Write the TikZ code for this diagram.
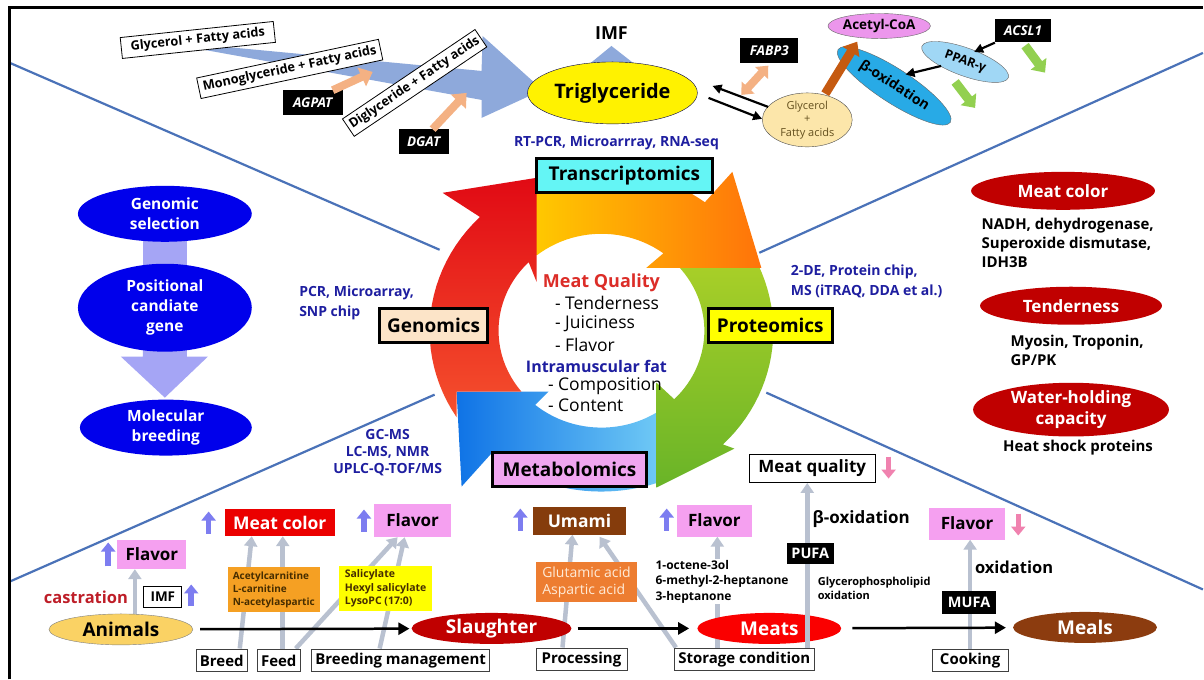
\documentclass[tikz,border=0pt]{standalone}
\usepackage{fontspec}
\setmainfont{Open Sans}
\usetikzlibrary{arrows.meta,shapes.geometric,calc}
\newcommand\fz[2]{\fontsize{#1}{#2}\selectfont}
\pgfdeclarelayer{back}
\pgfdeclarelayer{bg}
\pgfsetlayers{back,bg,main}
\definecolor{lineblue}{RGB}{74,114,184}
\definecolor{tblue}{RGB}{142,169,219}
\definecolor{peach}{RGB}{244,177,131}
\definecolor{glyc}{RGB}{252,230,170}
\definecolor{glyctext}{RGB}{100,80,30}
\definecolor{acoa}{RGB}{236,150,236}
\definecolor{boxbl}{RGB}{40,170,230}
\definecolor{pparbl}{RGB}{160,215,245}
\definecolor{brownar}{RGB}{197,90,17}
\definecolor{greenar}{RGB}{146,208,80}
\definecolor{lav}{RGB}{165,165,245}
\definecolor{selblue}{RGB}{0,0,235}
\definecolor{dred}{RGB}{192,0,0}
\definecolor{methblue}{RGB}{30,30,160}
\definecolor{mqred}{RGB}{220,45,40}
\definecolor{tcyan}{RGB}{100,245,245}
\definecolor{gbisque}{RGB}{252,228,200}
\definecolor{pyellow}{RGB}{255,255,0}
\definecolor{mpink}{RGB}{240,165,240}
\definecolor{redT}{RGB}{225,10,20}
\definecolor{redB}{RGB}{245,80,45}
\definecolor{orangeL}{RGB}{255,200,0}
\definecolor{orangeR}{RGB}{255,115,10}
\definecolor{greenT}{RGB}{180,212,40}
\definecolor{greenB}{RGB}{105,180,40}
\definecolor{blueL}{RGB}{15,115,230}
\definecolor{blueR}{RGB}{110,200,245}
\definecolor{flpink}{RGB}{245,160,240}
\definecolor{mcred}{RGB}{235,0,0}
\definecolor{umbrown}{RGB}{133,60,12}
\definecolor{grayar}{RGB}{185,193,208}
\definecolor{uparrow}{RGB}{125,125,240}
\definecolor{dnarrow}{RGB}{240,130,175}
\definecolor{animal}{RGB}{250,210,100}
\definecolor{meatred}{RGB}{250,0,0}
\definecolor{mealbrown}{RGB}{140,60,15}
\definecolor{orgbox}{RGB}{245,160,35}
\definecolor{orgtext}{RGB}{70,45,0}
\definecolor{glubox}{RGB}{237,125,49}
\definecolor{glutext}{RGB}{255,235,215}
\definecolor{castred}{RGB}{190,30,40}
\definecolor{ybox}{RGB}{255,255,0}
\begin{document}
\begin{tikzpicture}[x=1pt,y=-1pt,
 bx/.style={draw=black,line width=0.8pt,fill=white,inner sep=2pt},
 tbox/.style={draw=black,line width=3pt,minimum height=34pt,inner sep=5pt,font=\fz{19}{21}\bfseries},
 blk/.style={fill=black,text=white,font=\fz{13.5}{15}\bfseries\itshape,minimum height=25pt,inner sep=3pt},
 blkup/.style={fill=black,text=white,font=\fz{14.5}{16}\bfseries,minimum height=22pt,inner sep=3pt},
 meth/.style={text=methblue,font=\fz{14}{20}\bfseries,align=left},
 ctr/.style={font=\fz{17.5}{20},anchor=west},
 rtxt/.style={font=\fz{15}{19}\bfseries,align=left},
 redell/.style={ellipse,fill=dred,text=white,inner sep=0pt,font=\fz{17}{21}\bfseries,align=center},
 blueell/.style={ellipse,fill=selblue,text=white,inner sep=0pt,font=\fz{15.5}{20}\bfseries,align=center},
 flowell/.style={ellipse,minimum height=31pt,inner sep=0pt,font=\fz{19}{21}\bfseries},
 bbox/.style={draw=black!75,line width=0.8pt,fill=white,minimum height=23pt,inner sep=4pt,font=\fz{15}{17}\bfseries},
 pinkbox/.style={fill=flpink,minimum height=31pt,minimum width=72pt,font=\fz{17}{19}\bfseries},
 rotbox/.style={draw=black,line width=0.8pt,fill=white,minimum height=21pt,inner sep=1pt,font=\fz{12.8}{15}\bfseries},
 flowar/.style={line width=2.5pt,-{Triangle[length=11pt,width=12pt]}},
 grar/.style={draw=grayar,line width=4.5pt,-{Triangle[length=10pt,width=13pt]}},
 upar/.style={draw=uparrow,line width=5.5pt,-{Triangle[length=9pt,width=14pt]}},
 dnar/.style={draw=dnarrow,line width=5.5pt,-{Triangle[length=9pt,width=14pt]}},
 peachar/.style={draw=peach,line width=8pt},
 barr/.style={line width=2.2pt,-{Triangle[length=9pt,width=9pt]}},
 grnar/.style={draw=greenar,line width=9pt,-{Triangle[length=11pt,width=19pt]}},
 xline/.style={draw=lineblue,line width=2.2pt}
]
\begin{pgfonlayer}{back}
\fill[white] (0,0) rectangle (1204,680);
\coordinate (l1a) at (10,63); \coordinate (l1b) at (440,250);
\coordinate (l2a) at (10,582); \coordinate (l2b) at (435,395);
\coordinate (l3a) at (1204,53); \coordinate (l3b) at (760,253);
\coordinate (l4a) at (767,393); \coordinate (l4b) at (1204,590);
\draw[xline] (l1a) -- (l1b);
\draw[xline] (l2a) -- (l2b);
\draw[xline] (l3a) -- (l3b);
\draw[xline] (l4a) -- (l4b);
\end{pgfonlayer}
\useasboundingbox (0,0) rectangle (1204,680);
\draw[line width=3pt] (10,680) -- (10,8) -- (1204,8);

% ---------- ring ----------
\shade[left color=blueL, right color=blueR] (657,483.5)
  -- plot[domain=71.35:130,samples=25] ({602+172*cos(\x)},{331+161*sin(\x)})
  -- (462,487) -- (457,392) -- (549,392)
  -- plot[domain=130:57.7,samples=25] ({602+103*cos(\x)},{331+97*sin(\x)}) -- cycle;
\shade[top color=greenT, bottom color=greenB]
  plot[domain=318:405,samples=30] ({602+172*cos(\x)},{331+161*sin(\x)})
  -- (735,449) -- (657,488) -- (657,383)
  -- plot[domain=405:318,samples=30] ({602+103*cos(\x)},{331+97*sin(\x)}) -- cycle;
\shade[left color=orangeL, right color=orangeR] (537,181.9)
  -- plot[domain=247.8:307,samples=25] ({602+172*cos(\x)},{331+161*sin(\x)})
  -- (733,172) -- (762,268) -- (647,268)
  -- plot[domain=307:230.9,samples=25] ({602+103*cos(\x)},{331+97*sin(\x)}) -- cycle;
\shade[top color=redT, bottom color=redB] (457,392) -- (457,417.5)
  -- plot[domain=147.5:225,samples=25] ({602+172*cos(\x)},{331+161*sin(\x)})
  -- (443,193) -- (537,178) -- (537,282)
  -- plot[domain=225:141,samples=25] ({602+103*cos(\x)},{331+97*sin(\x)})
  -- (521.9,392) -- cycle;

\node[tbox,fill=tcyan,minimum width=176pt] (trans) at (625,176) {Transcriptomics};
\node[tbox,fill=gbisque,minimum width=108pt] (geno) at (434,326) {Genomics};
\node[tbox,fill=pyellow,minimum width=124pt] (prot) at (771,326) {Proteomics};
\node[tbox,fill=mpink,minimum width=155pt] (meta) at (570,470) {Metabolomics};

\node[meth] (mtrans) at (617,143) {RT-PCR, Microarrray, RNA-seq};
\node[meth,anchor=west] (mgeno) at (296,303) {PCR, Microarray,\\SNP chip};
\node[meth,anchor=west] (mprot) at (788,282) {2-DE, Protein chip,\\MS (iTRAQ, DDA et al.)};
\node[meth,align=center,font=\fz{14}{17}\bfseries] (mmeta) at (388,453) {GC-MS\\LC-MS, NMR\\UPLC-Q-TOF/MS};

\node[font=\fz{18}{20}\bfseries,text=mqred] (mq) at (602,283) {Meat Quality};
\node[ctr] (c1) at (552,303) {-\ Tenderness};
\node[ctr] (c2) at (552,324) {-\ Juiciness};
\node[ctr] (c3) at (552,345) {-\ Flavor};
\node[font=\fz{16}{18}\bfseries,text=methblue] (imfat) at (597,367) {Intramuscular fat};
\node[ctr] (c4) at (545,387) {- Composition};
\node[ctr] (c5) at (545,406) {- Content};

% ---------- top ----------
\fill[tblue] (205,45) -- (482,71) -- (483,36) -- (543,90) -- (482,118) -- (482,100) -- (205,50) -- cycle;
\node[blk,minimum width=60pt] (agpat) at (313,103) {AGPAT};
\node[blk,minimum width=50pt] (dgat) at (424,142) {DGAT};
\coordinate (agpend) at (373,72);
\coordinate (dgend) at (467,93);
\draw[peachar,-{Triangle[length=12pt,width=20pt]}] ($(agpat.north)+(20,0)$) -- (agpend);
\draw[peachar,-{Triangle[length=12pt,width=20pt]}] ($(dgat.north)+(9,0)$) -- (dgend);
\node[rotbox,rotate=6,minimum width=154pt] (glyfa) at (198,40) {Glycerol + Fatty acids};
\node[rotbox,rotate=12,minimum width=186pt] (monofa) at (290,69) {Monoglyceride + Fatty acids};
\node[rotbox,rotate=34,minimum width=160pt] (difa) at (415,83) {Diglyceride + Fatty acids};

\fill[tblue] (602,74) -- (602,64) -- (590,64) -- (612,46) -- (635,64) -- (622,64) -- (622,74) -- cycle;
\node[font=\fz{18}{20}\bfseries] (imf) at (612,33) {IMF};
\node[ellipse,draw=black!70!blue,fill=yellow,minimum width=170pt,minimum height=62pt,inner sep=0pt,font=\fz{20}{22}\bfseries] (tg) at (613,93) {Triglyceride};
\node[ellipse,draw=black!70,fill=glyc,text=glyctext,minimum width=90pt,minimum height=54pt,inner sep=0pt,align=center,font=\fz{11}{13.5}] (gfa) at (808,120) {Glycerol\\+\\Fatty acids};
\draw[barr] ($(gfa.west)+(6,-13)$) -- ($(tg.east)+(15,-7)$);
\draw[barr] ($(tg.east)+(11,5)$) -- ($(gfa.west)+(0,-1)$);
\node[blk,minimum width=58pt] (fabp) at (770,51) {FABP3};
\coordinate (fabpend) at (742,95);
\draw[peachar,{Triangle[length=10pt,width=17pt]}-{Triangle[length=10pt,width=17pt]}] ($(fabp.south)+(-1,2)$) -- (fabpend);
\node[ellipse,draw=black!60,fill=acoa,minimum width=94pt,minimum height=25pt,inner sep=0pt,font=\fz{13.5}{15}\bfseries] (acoa) at (880,26) {Acetyl-CoA};
\node[ellipse,draw=black!60,fill=boxbl,rotate=-33,minimum width=134pt,minimum height=34pt,inner sep=0pt,font=\fz{14}{15}\bfseries] (box) at (895,86) {β-oxidation};
\draw[draw=brownar,line width=9pt,-{Triangle[length=12pt,width=19pt]}] ($(gfa.north)+(18,1)$) -- ($(acoa.south)+(-22,3)$);
\node[ellipse,draw=black!60,fill=pparbl,rotate=-20,minimum width=92pt,minimum height=28pt,inner sep=0pt,font=\fz{12.5}{14}\bfseries] (ppar) at (966,62) {PPAR-γ};
\node[blk,minimum width=56pt,minimum height=23pt] (acsl) at (1024,31) {ACSL1};
\draw[barr] (acsl.south west) -- ($(ppar.center)+(9,-10)$);
\draw[barr] ($(ppar.center)+(-24,4)$) -- ($(box.north)+(2,3)$);
\draw[grnar] ($(acsl.south)+(2,3)$) -- ++(20,27);
\draw[grnar] ($(ppar.center)+(-10,20)$) -- ++(20,26);

% ---------- left ----------
\fill[lav] (143,235) rectangle (187,290);
\fill[lav] (143,335) -- (187,335) -- (187,357) -- (208,357) -- (165,398) -- (121,357) -- (143,357) -- cycle;
\node[blueell,minimum width=174pt,minimum height=56pt] (gs) at (165,214) {Genomic\\selection};
\node[blueell,minimum width=174pt,minimum height=88pt] (pcg) at (165,308) {Positional\\candiate\\gene};
\node[blueell,minimum width=172pt,minimum height=56pt] (mb) at (166,428) {Molecular\\breeding};

% ---------- right ----------
\node[redell,minimum width=184pt,minimum height=38pt] (rmc) at (1064,191) {Meat color};
\node[rtxt,anchor=west] (rmct) at (979,243) {NADH, dehydrogenase,\\Superoxide dismutase,\\IDH3B};
\node[redell,minimum width=182pt,minimum height=38pt] (rten) at (1072,306) {Tenderness};
\node[rtxt,anchor=west] (rtent) at (1008,351) {Myosin, Troponin,\\GP/PK};
\node[redell,minimum width=196pt,minimum height=50pt] (rwhc) at (1072,410) {Water-holding\\capacity};
\node[rtxt] (rwhct) at (1079,448) {Heat shock proteins};

% ---------- bottom ----------
\node[flowell,fill=animal,draw=black!50,minimum width=144pt] (animals) at (121,630) {Animals};
\node[flowell,fill=dred,text=white,minimum width=160pt] (slaughter) at (492,629) {Slaughter};
\node[flowell,fill=meatred,text=white,minimum width=144pt] (meats) at (770,629) {Meats};
\node[flowell,fill=mealbrown,text=white,minimum width=144pt] (meals) at (1086,628) {Meals};
\draw[flowar,shorten <=7pt,shorten >=2pt] (animals) -- (slaughter);
\draw[flowar,shorten <=6pt,shorten >=8pt] (slaughter) -- (meats);
\draw[flowar,shorten <=11pt,shorten >=7pt] (meats) -- (meals);

\node[bbox,minimum width=46pt] (breed) at (222,661) {Breed};
\node[bbox,minimum width=39pt] (feed) at (279,661) {Feed};
\node[bbox,minimum width=178pt] (bmgmt) at (401,661) {Breeding management};
\node[bbox,minimum width=91pt] (proc) at (582,660) {Processing};
\node[bbox,minimum width=135pt] (stor) at (745,660) {Storage condition};
\node[bbox,minimum width=76pt] (cook) at (971,661) {Cooking};

\node[pinkbox,minimum width=69pt,minimum height=29pt] (fl1) at (152,555) {Flavor};
\node[fill=mcred,text=white,minimum width=110pt,minimum height=27pt,font=\fz{17.5}{19}\bfseries] (mcol) at (280,523) {Meat color};
\node[pinkbox,minimum width=77pt,minimum height=33pt] (fl2) at (413,521) {Flavor};
\node[fill=umbrown,text=white,minimum width=94pt,minimum height=28pt,font=\fz{17.5}{19}\bfseries] (umami) at (580,521) {Umami};
\node[pinkbox,minimum width=75pt,minimum height=32pt] (fl3) at (715,521) {Flavor};
\node[bx,minimum width=126pt,minimum height=28pt,font=\fz{17}{19}\bfseries] (mqual) at (813,469) {Meat quality};
\node[pinkbox,minimum width=76pt,minimum height=32pt] (fl4) at (968,524) {Flavor};

\node[font=\fz{16.5}{18}\bfseries,text=castred] (cast) at (86,598) {castration};
\node[bx,font=\fz{13.5}{15}\bfseries,minimum width=38pt,minimum height=21pt] (imfb) at (163,597) {IMF};

\begin{pgfonlayer}{bg}
\draw[grar] ($(animals.north)+(14,0)$) -- ($(fl1.south)+(-17,0)$);
\draw[grar] ($(breed.north)+(18,0)$) -- ($(mcol.south)+(-28,0)$);
\draw[grar] ($(feed.north)+(4,0)$) -- ($(mcol.south)+(3,0)$);
\draw[grar] ($(feed.north)+(17,0)$) -- ($(fl2.south)+(-15,0)$);
\draw[grar] ($(bmgmt.north)+(-21,0)$) -- ($(fl2.south)+(-8,0)$);
\draw[grar] ($(proc.north)+(-19,0)$) -- ($(umami.south)+(-7,0)$);
\draw[grar] ($(stor.north west)+(2,0)$) -- ($(umami.south)+(20,2)$);
\draw[grar] ($(stor.north)+(-27,0)$) -- ($(fl3.south)+(3,0)$);
\draw[grar] ($(cook.north)$) -- ($(fl4.south)+(3,0)$);
\end{pgfonlayer}
\draw[grar] ($(stor.north)+(63,0)$) -- ($(mqual.south)+(-5,0)$);

\draw[upar] ($(fl1.west)+(-9,12)$) -- ++(0,-24);
\draw[upar] ($(imfb.east)+(9,10)$) -- ++(0,-22);
\draw[upar] ($(mcol.west)+(-16,11)$) -- ++(0,-22);
\draw[upar] ($(fl2.west)+(-10,11)$) -- ++(0,-22);
\draw[upar] ($(umami.west)+(-12,10)$) -- ++(0,-22);
\draw[upar] ($(fl3.west)+(-10,10)$) -- ++(0,-22);
\draw[dnar] ($(mqual.east)+(13,-12)$) -- ++(0,22);
\draw[dnar] ($(fl4.east)+(13,-10)$) -- ++(0,22);

\node[fill=orgbox,text=orgtext,minimum width=92pt,minimum height=45pt,inner sep=3pt,align=left,font=\fz{10}{13}\bfseries] (obx) at (274,590) {Acetylcarnitine\\L-carnitine\\N-acetylaspartic};
\node[fill=ybox,text=orgtext,minimum width=93pt,minimum height=45pt,inner sep=3pt,align=left,font=\fz{10.5}{13.5}\bfseries] (ybx) at (386,589) {Salicylate\\Hexyl salicylate\\LysoPC (17:0)};
\node[fill=glubox,text=glutext,minimum width=101pt,minimum height=40pt,inner sep=3pt,align=left,font=\fz{14}{17}] (glu) at (587,583) {Glutamic acid\\Aspartic acid};
\node[anchor=west,fill=white,inner sep=1pt,align=left,font=\fz{12}{15.5}\bfseries] (oct) at (655,582) {1-octene-3ol\\6-methyl-2-heptanone\\3-heptanone};
\node[font=\fz{17}{19}\bfseries] (bolab) at (862,520) {β-oxidation};
\node[blkup,minimum width=47pt] (pufa) at (811,554) {PUFA};
\node[anchor=west,align=left,font=\fz{11}{14}\bfseries] (gpl) at (815,589) {Glycerophospholipid\\oxidation};
\node[font=\fz{16.5}{18}\bfseries] (oxlab) at (1015,568) {oxidation};
\node[blkup,minimum width=54pt,minimum height=23pt] (mufa) at (970,603) {MUFA};
\end{tikzpicture}
\end{document}
